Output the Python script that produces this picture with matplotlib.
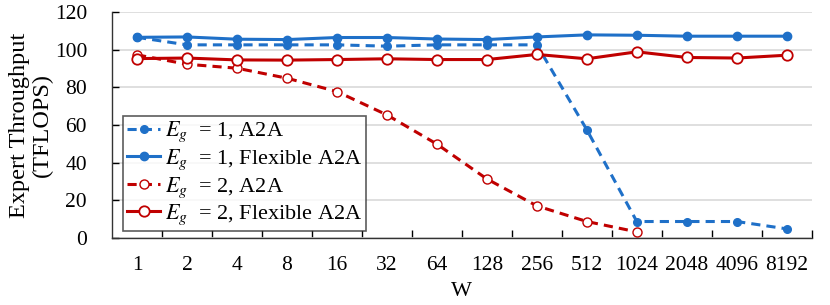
import numpy as np
import matplotlib
matplotlib.use('Agg')
import matplotlib.pyplot as plt
from matplotlib.ticker import FixedLocator

# Data
w_labels = ['1', '2', '4', '8', '16', '32', '64', '128', '256', '512',
            '1024', '2048', '4096', '8192']
eg1_a2a = [106.5, 102.5, 102.5, 102.5, 102.5, 101.8, 102.5, 102.5, 102.5,
           57.4, 8.7, 8.7, 8.7, 4.8]
eg1_flex = [106.5, 106.7, 105.5, 105.3, 106.4, 106.4, 105.6, 105.3, 106.7,
            107.8, 107.6, 107.1, 107.1, 107.1]
eg2_a2a = [97.2, 92.2, 90.1, 84.8, 77.7, 65.3, 49.8, 31.3, 17.0, 8.7, 3.2]
eg2_flex = [95.2, 95.5, 94.5, 94.4, 94.7, 95.1, 94.7, 94.7, 97.4, 95.1,
            98.8, 95.8, 95.5, 97.0]

blue = '#1f70c8'
red = '#c00000'

plt.rcParams['font.family'] = ['Liberation Serif', 'DejaVu Serif']
plt.rcParams['mathtext.fontset'] = 'stix'

fig = plt.figure(figsize=(8.3, 3.05), dpi=100)
ax = fig.add_axes([0.135, 0.22, 0.843, 0.741])

x = np.arange(len(w_labels))
ax.plot(x, eg1_a2a, color=blue, lw=2.2, ls=(0, (3, 2)), marker='o', ms=5.5,
        label=r'$E_g$  = 1, A2A', zorder=3)
ax.plot(x, eg1_flex, color=blue, lw=2.2, marker='o', ms=6,
        label=r'$E_g$  = 1, Flexible A2A', zorder=4)
ax.plot(x[:len(eg2_a2a)], eg2_a2a, color=red, lw=2.2, ls=(0, (3, 2)), marker='o',
        ms=6.5, mfc='white', mec=red, mew=1.0, label=r'$E_g$  = 2, A2A', zorder=3)
ax.plot(x, eg2_flex, color=red, lw=2.2, marker='o', ms=7.5, mfc='white',
        mec=red, mew=1.3, label=r'$E_g$  = 2, Flexible A2A', zorder=4)

ax.set_xlim(-0.5, len(w_labels) - 0.5)
ax.set_ylim(0, 120)
ax.set_yticks(np.arange(0, 121, 20))
ax.set_xticks(x)
ax.set_xticklabels(w_labels)
ax.xaxis.set_minor_locator(FixedLocator(np.arange(0.5, len(w_labels), 1.0)))
ax.tick_params(axis='x', which='major', length=0, pad=13, labelsize=15.5)
ax.tick_params(axis='x', which='minor', length=6, direction='in', width=1)
ax.tick_params(axis='y', length=5, direction='in', width=1, labelsize=15.5, pad=18)

ax.grid(axis='y', color='#d9d9d9', lw=1.2)
ax.set_axisbelow(True)
for s in ['top', 'right']:
    ax.spines[s].set_visible(False)
for s in ['left', 'bottom']:
    ax.spines[s].set_linewidth(1.0)
    ax.spines[s].set_color('#333333')

ax.set_xlabel('W', fontsize=16, labelpad=5)
ax.set_ylabel('Expert Throughput\n(TFLOPS)', fontsize=17.5, linespacing=1.15, labelpad=1)

leg = ax.legend(loc='lower left', bbox_to_anchor=(0.016, 0.031), fontsize=16,
                frameon=True, fancybox=False, edgecolor='#333333',
                handlelength=1.5, handletextpad=0.2, labelspacing=0.14,
                borderpad=0.17, borderaxespad=0)
leg.get_frame().set_linewidth(1.2)

fig.savefig('out.png', dpi=100)
